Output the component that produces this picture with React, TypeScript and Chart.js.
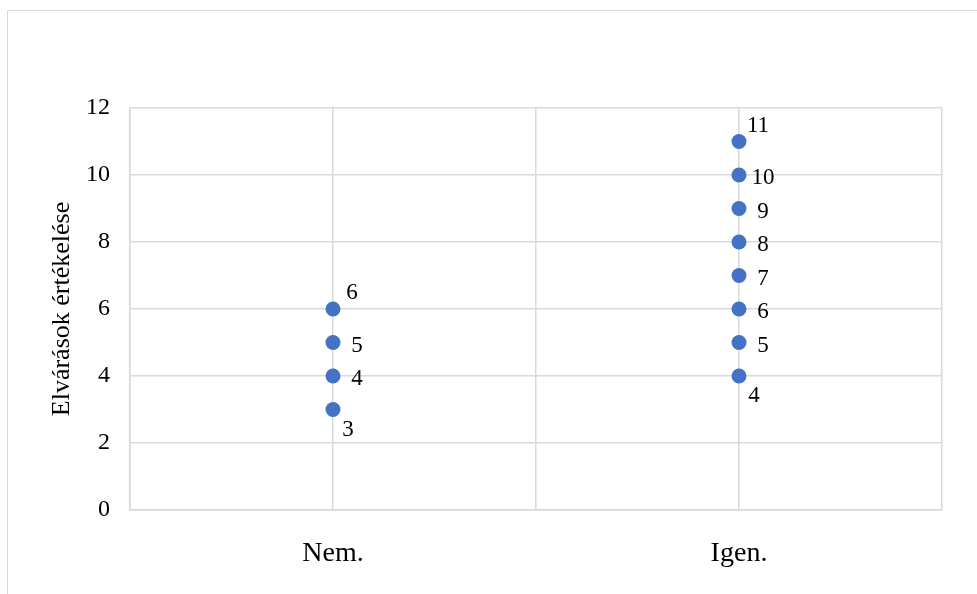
import React, { useEffect, useRef } from 'react'
import { Chart, registerables } from 'chart.js'
import type { Plugin } from 'chart.js'

Chart.register(...registerables)

// categories on the x axis, placed at 1 and 3 on a 0..4 linear scale
const CATEGORIES = ['Nem.', 'Igen.']
const NEM_VALUES = [6, 5, 4, 3]
const IGEN_VALUES = [11, 10, 9, 8, 7, 6, 5, 4]
const Y_TITLE = 'Elvárások értékelése'

const POINT_COLOR = '#4472C4'
const GRID_COLOR = '#d9d9d9'
const FONT = 'Liberation Serif'

const categoryX = (i: number) => i * 2 + 1

// Excel-like value labels: top point above, bottom point below, the rest to the right
const valueLabels: Plugin = {
  id: 'valueLabels',
  afterDatasetsDraw(chart) {
    const ctx = chart.ctx
    ctx.save()
    ctx.font = `23px "${FONT}"`
    ctx.fillStyle = '#000'
    ctx.textAlign = 'center'
    ctx.textBaseline = 'middle'
    chart.data.datasets.forEach((ds, di) => {
      const meta = chart.getDatasetMeta(di)
      const vals = (ds.data as { x: number; y: number }[]).map((p) => p.y)
      const max = Math.max(...vals)
      const min = Math.min(...vals)
      meta.data.forEach((el, i) => {
        const v = vals[i]
        let dx = 24
        let dy = 3
        if (v === max) { dx = 19; dy = -16 }
        else if (v === min) { dx = 15; dy = 20 }
        ctx.fillText(String(v), el.x + dx, el.y + dy)
      })
    })
    ctx.restore()
  },
}

export default function App() {
  const chartRef = useRef<HTMLCanvasElement>(null)
  const chartInstance = useRef<Chart | null>(null)

  useEffect(() => {
    document.body.style.margin = '0'
    if (!chartRef.current) return
    if (chartInstance.current) chartInstance.current.destroy()

    const series = [NEM_VALUES, IGEN_VALUES]

    chartInstance.current = new Chart(chartRef.current, {
      type: 'scatter',
      data: {
        datasets: series.map((vals, ci) => ({
          label: CATEGORIES[ci],
          data: vals.map((v) => ({ x: categoryX(ci), y: v })),
          backgroundColor: POINT_COLOR,
          borderColor: POINT_COLOR,
          pointRadius: 7.5,
          pointBorderWidth: 0,
        })),
      },
      options: {
        animation: false,
        responsive: false,
        maintainAspectRatio: false,
        layout: { padding: { top: 108, right: 35, left: 0, bottom: 0 } },
        plugins: { legend: { display: false }, tooltip: { enabled: false } },
        scales: {
          x: {
            type: 'linear',
            min: 0,
            max: 4,
            afterFit: (scale) => { scale.height = 84 },
            grid: { color: GRID_COLOR, lineWidth: 1.5, drawTicks: false },
            border: { color: GRID_COLOR, width: 1.5 },
            ticks: {
              stepSize: 1,
              padding: 27,
              color: '#000',
              font: { family: FONT, size: 28 },
              maxRotation: 0,
              autoSkip: false,
              callback: (v) => {
                const idx = CATEGORIES.findIndex((_, i) => categoryX(i) === v)
                return idx >= 0 ? CATEGORIES[idx] : ''
              },
            },
          },
          y: {
            min: 0,
            max: 12,
            afterFit: (scale) => { scale.width = 130 },
            grid: { color: GRID_COLOR, lineWidth: 1.5, drawTicks: false },
            border: { color: GRID_COLOR, width: 1.5 },
            ticks: {
              stepSize: 2,
              padding: 20,
              color: '#000',
              font: { family: FONT, size: 24 },
            },
            title: {
              display: true,
              text: Y_TITLE,
              color: '#000',
              font: { family: FONT, size: 26 },
              padding: { top: 47, bottom: 0 },
            },
          },
        },
      },
      plugins: [valueLabels],
    })

    return () => chartInstance.current?.destroy()
  }, [])

  return (
    <div style={{ position: 'relative', width: 977, height: 594, overflow: 'hidden', background: '#fff' }}>
      <div
        style={{
          position: 'absolute',
          left: 7,
          top: 10,
          width: 1000,
          height: 700,
          border: `1.5px solid ${GRID_COLOR}`,
        }}
      />
      <canvas ref={chartRef} width={977} height={594} style={{ position: 'absolute', left: 0, top: 0 }} />
    </div>
  )
}
